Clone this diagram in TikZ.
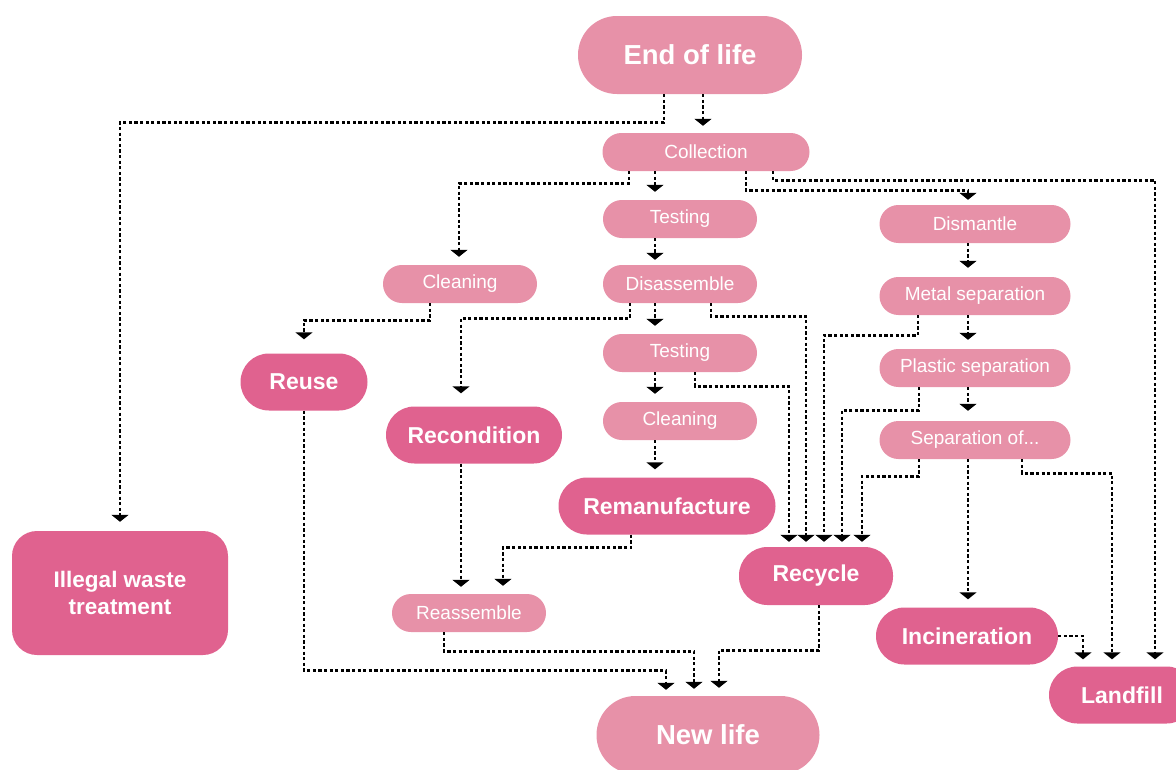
\documentclass[tikz,border=0pt]{standalone}
\usepackage{fontspec}
\setmainfont{Liberation Sans}
\usetikzlibrary{arrows.meta}
\definecolor{lightpink}{RGB}{231,145,168}
\definecolor{darkpink}{RGB}{224,98,143}
\newcommand{\taskfont}{\fontsize{19}{22}\selectfont}
\newcommand{\outfont}{\fontsize{23}{27}\selectfont\bfseries}
\newcommand{\stagefont}{\fontsize{27.5}{32}\selectfont\bfseries}

\begin{document}
\begin{tikzpicture}[x=1pt,y=-1pt,
  box/.style={fill=lightpink,text=white,inner sep=0pt,align=center},
  task/.style={box,minimum width=154pt,minimum height=38pt,rounded corners=18.9pt,font=\taskfont},
  outcome/.style={box,fill=darkpink,minimum height=57pt,rounded corners=28.4pt,font=\outfont},
  stage/.style={box,minimum width=224pt,minimum height=78pt,rounded corners=38.9pt,font=\stagefont},
  flow/.style={line width=2.8pt,dash pattern=on 3.2pt off 2.4pt,-{Triangle[width=17pt,length=7pt]}}]
\useasboundingbox (0,0) rectangle (1176,769);
\node [stage] (eol) at (690,55) {End of life};
\node [task,minimum width=207pt] (coll) at (706,152) {Collection};
\node [task] (test1) at (680,219) {Testing};
\node [task,minimum width=191pt] (dism) at (975,224) {Dismantle};
\node [task] (clean1) at (460,284) {Cleaning};
\node [task] (disas) at (680,284) {Disassemble};
\node [task,minimum width=191pt] (metal) at (975,296) {Metal separation};
\node [task] (test2) at (680,353) {Testing};
\node [task,minimum width=191pt] (plast) at (975,368) {Plastic separation};
\node [outcome,minimum width=127pt] (reuse) at (304,382) {Reuse};
\node [outcome,minimum width=176pt] (recond) at (474,435) {Recondition};
\node [task] (clean2) at (680,421) {Cleaning};
\node [task,minimum width=191pt] (sepof) at (975,440) {Separation of...};
\node [outcome,minimum width=217pt] (reman) at (667,506) {Remanufacture};
\node [outcome,minimum width=216pt,minimum height=124pt,rounded corners=25pt,
  font=\fontsize{22.5}{27}\selectfont\bfseries] (illegal) at (120,593) {Illegal waste\\treatment};
\node [outcome,minimum width=154pt,minimum height=58pt] (recycle) at (816,576) {Recycle};
\node [task] (reass) at (469,613) {Reassemble};
\node [outcome,minimum width=182pt] (incin) at (967,636) {Incineration};
\node [outcome,minimum width=146pt] (landfill) at (1122,695) {Landfill};
\node [stage,minimum width=223pt] (newlife) at (708,735) {New life};

\draw [flow] ([xshift=13pt]eol.south) -- ([xshift=-3pt,yshift=7pt]coll.north);
\draw [flow] ([xshift=-26pt]eol.south) -- ++(0,28) -| ([yshift=9pt]illegal.north);
\draw [flow] ([xshift=-77pt]coll.south) -- ++(0,12) -| ([xshift=-1pt,yshift=8pt]clean1.north);
\draw [flow] ([xshift=-51pt]coll.south) -- ([xshift=-25pt,yshift=8pt]test1.north);
\draw [flow] ([xshift=40pt]coll.south) -- ++(0,19) -| ([xshift=-7pt,yshift=5pt]dism.north);
\draw [flow] ([xshift=67pt]coll.south) -- ++(0,9) -| ([xshift=33pt,yshift=7pt]landfill.north);
\draw [flow] ([xshift=-25pt]test1.south) -- ([xshift=-25pt,yshift=5pt]disas.north);
\draw [flow] ([xshift=-7pt]dism.south) -- ([xshift=-7pt,yshift=9pt]metal.north);
\draw [flow] ([xshift=-30pt]clean1.south) -- ++(0,17) -| ([yshift=14pt]reuse.north);
\draw [flow] ([xshift=-50pt]disas.south) -- ++(0,15) -| ([xshift=-13pt,yshift=13pt]recond.north);
\draw [flow] ([xshift=-25pt]disas.south) -- ([xshift=-25pt,yshift=8pt]test2.north);
\draw [flow] ([xshift=31pt]disas.south) -- ++(0,13) -| ([xshift=-10pt,yshift=5pt]recycle.north);
\draw [flow] ([xshift=-7pt]metal.south) -- ([xshift=-7pt,yshift=9pt]plast.north);
\draw [flow] ([xshift=-57pt]metal.south) -- ++(0,20) -| ([xshift=8pt,yshift=5pt]recycle.north);
\draw [flow] ([xshift=-25pt]test2.south) -- ([xshift=-25pt,yshift=8pt]clean2.north);
\draw [flow] ([xshift=15pt]test2.south) -- ++(0,14) -| ([xshift=-27pt,yshift=5pt]recycle.north);
\draw [flow] ([xshift=-7pt]plast.south) -- ([xshift=-7pt,yshift=10pt]sepof.north);
\draw [flow] ([xshift=-56pt]plast.south) -- ++(0,23) -| ([xshift=26pt,yshift=5pt]recycle.north);
\draw [flow] ([xshift=-25pt]clean2.south) -- ([xshift=-12pt,yshift=8pt]reman.north);
\draw [flow] ([xshift=-56pt]sepof.south) -- ++(0,17) -| ([xshift=46pt,yshift=5pt]recycle.north);
\draw [flow] ([xshift=-7pt]sepof.south) -- ([xshift=1pt,yshift=8pt]incin.north);
\draw [flow] ([xshift=47pt]sepof.south) -- ++(0,14) -| ([xshift=-10pt,yshift=7pt]landfill.north);
\draw [flow] ([xshift=-13pt]recond.south) -- ([xshift=-8pt,yshift=7pt]reass.north);
\draw [flow] ([xshift=-36pt]reman.south) -- ++(0,13) -| ([xshift=34pt,yshift=8pt]reass.north);
\draw [flow] (reuse.south) -- ++(0,260) -| ([xshift=-42pt,yshift=6pt]newlife.north);
\draw [flow] ([xshift=-25pt]reass.south) -- ++(0,19) -| ([xshift=-14pt,yshift=7pt]newlife.north);
\draw [flow] ([xshift=3pt]recycle.south) -- ++(0,45) -| ([xshift=11pt,yshift=8pt]newlife.north);
\draw [flow] (incin.east) -| ([xshift=-39pt,yshift=7pt]landfill.north);
\end{tikzpicture}
\end{document}
